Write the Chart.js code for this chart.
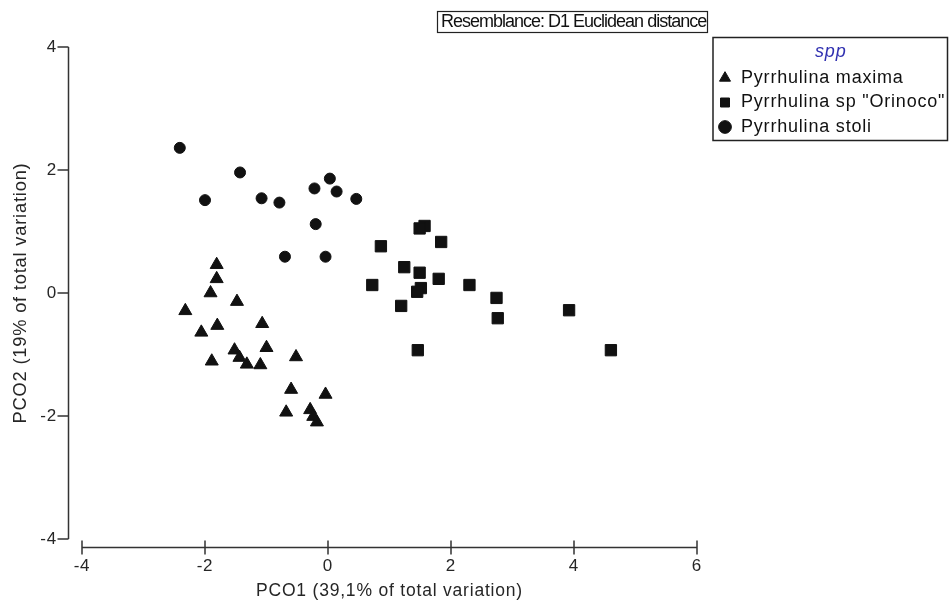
<!DOCTYPE html>
<html>
<head>
<meta charset="utf-8">
<script src="https://cdn.jsdelivr.net/npm/chart.js@4"></script>
<style>
  html, body { margin: 0; padding: 0; background: #fff; }
  canvas { display: block; }
</style>
</head>
<body>
<canvas id="pcoChart" width="950" height="606"></canvas>
<script>
// values
const seriesNames = ['Pyrrhulina maxima', 'Pyrrhulina sp "Orinoco"', 'Pyrrhulina stoli'];

const maximaX = [-1.81, -1.81, -1.91, -1.48, -2.32, -1.80, -1.07, -2.06, -1.00, -1.52, -1.44,
                 -1.32, -1.10, -1.89, -0.52, -0.60, -0.04, -0.68, -0.29, -0.24, -0.18];
const maximaY = [0.46, 0.23, 0.00, -0.14, -0.29, -0.53, -0.50, -0.64, -0.89, -0.93, -1.05,
                 -1.16, -1.17, -1.11, -1.04, -1.57, -1.65, -1.94, -1.90, -2.01, -2.10];

const orinocoX = [1.57, 1.49, 0.86, 1.84, 1.24, 1.49, 1.80, 0.72, 2.30, 1.51, 1.45, 1.19,
                  2.74, 2.76, 3.92, 1.46, 4.60];
const orinocoY = [1.09, 1.05, 0.76, 0.83, 0.42, 0.33, 0.23, 0.13, 0.13, 0.08, 0.02, -0.21,
                  -0.08, -0.41, -0.28, -0.93, -0.93];

const stoliX = [-2.41, -1.43, -2.00, -1.08, -0.79, -0.22, 0.03, 0.14, 0.46, -0.20, -0.70, -0.04];
const stoliY = [2.36, 1.96, 1.51, 1.54, 1.47, 1.70, 1.86, 1.65, 1.53, 1.12, 0.59, 0.59];

const xTicks = [-4, -2, 0, 2, 4, 6];
const yTicks = [-4, -2, 0, 2, 4];
const xTitle = 'PCO1 (39,1% of total variation)';
const yTitle = 'PCO2 (19% of total variation)';
const legendTitle = 'spp';
const boxText = 'Resemblance: D1 Euclidean distance';

const ink = '#111';
const textColor = '#262626';

Chart.defaults.font.family = "'Liberation Sans', Arial, sans-serif";
Chart.defaults.color = textColor;

function toPoints(xs, ys){
    return xs.map((x, i) => ({x: x, y: ys[i]}));
}

// slightly wider glyph spacing, like the original export
const spacing = {
    id: 'spacing',
    afterInit(chart){
        chart.ctx.letterSpacing = '0.8px';
    }
};

// offset axis lines with crossing ticks, drawn from the scales
const axisLines = {
    id: 'axisLines',
    afterDraw(chart){
        const c = chart.ctx;
        const xs = chart.scales.x;
        const ys = chart.scales.y;
        const axX = chart.chartArea.left - 13.5;
        const axY = chart.chartArea.bottom + 8.5;
        c.save();
        c.strokeStyle = '#333';
        c.lineWidth = 1.5;
        c.beginPath();
        c.moveTo(axX, ys.getPixelForValue(yTicks[yTicks.length - 1]));
        c.lineTo(axX, ys.getPixelForValue(yTicks[0]));
        yTicks.forEach(v => {
            const py = ys.getPixelForValue(v);
            c.moveTo(axX - 11, py);
            c.lineTo(axX, py);
        });
        c.moveTo(xs.getPixelForValue(xTicks[0]), axY);
        c.lineTo(xs.getPixelForValue(xTicks[xTicks.length - 1]), axY);
        xTicks.forEach(v => {
            const px = xs.getPixelForValue(v);
            c.moveTo(px, axY - 7);
            c.lineTo(px, axY + 7);
        });
        c.stroke();
        c.restore();
    }
};

// frame round the legend and the resemblance note
const frames = {
    id: 'frames',
    afterDraw(chart){
        const c = chart.ctx;
        const lg = chart.legend;
        c.save();
        c.strokeStyle = '#222';
        c.lineWidth = 1.5;
        c.strokeRect(lg.left + 1.5, lg.top + 7.5, lg.right - 2.5 - (lg.left + 1.5), 103);

        c.lineWidth = 1.2;
        c.strokeRect(437.5, 11.5, 270, 21);
        c.letterSpacing = '-1px';
        c.font = "18px 'Liberation Sans', Arial, sans-serif";
        c.fillStyle = ink;
        c.textBaseline = 'middle';
        c.fillText(boxText, 441, 22.5);
        c.restore();
    }
};

const hidden = {
    display: true,
    grid: {display: false},
    border: {display: false},
    ticks: {display: false}
};

new Chart(document.getElementById('pcoChart'), {
    type: 'scatter',
    data: {
        datasets: [{
            label: seriesNames[0],
            data: toPoints(maximaX, maximaY),
            pointStyle: 'triangle',
            pointRadius: 7.5,
            backgroundColor: ink,
            borderColor: ink,
            borderWidth: 1
        }, {
            label: seriesNames[1],
            data: toPoints(orinocoX, orinocoY),
            pointStyle: 'rect',
            pointRadius: 8,
            backgroundColor: ink,
            borderColor: ink,
            borderWidth: 1
        }, {
            label: seriesNames[2],
            data: toPoints(stoliX, stoliY),
            pointStyle: 'circle',
            pointRadius: 5.5,
            backgroundColor: ink,
            borderColor: ink,
            borderWidth: 1
        }]
    },
    options: {
        responsive: false,
        animation: false,
        devicePixelRatio: 1,
        events: [],
        layout: {padding: {top: 30, left: 0, right: 0, bottom: 0}},
        plugins: {
            tooltip: {enabled: false},
            legend: {
                position: 'right',
                align: 'start',
                maxWidth: 238.5,
                title: {
                    display: true,
                    text: legendTitle,
                    color: '#3030b0',
                    font: {size: 18, style: 'italic', lineHeight: 1},
                    padding: {top: 13, bottom: 1.5}
                },
                labels: {
                    usePointStyle: true,
                    boxWidth: 14,
                    boxHeight: 9,
                    padding: 6.5,
                    color: ink,
                    font: {size: 18}
                }
            }
        },
        scales: {
            x: {
                type: 'linear',
                position: 'bottom',
                min: -4,
                max: 6,
                afterBuildTicks: s => { s.ticks = xTicks.map(v => ({value: v})); },
                afterFit: s => { s.height = 67; },
                grid: {display: false},
                border: {display: false},
                ticks: {padding: 9, font: {size: 17}, color: textColor},
                title: {display: true, text: xTitle, font: {size: 17.5}, color: textColor,
                        padding: {top: 0, bottom: 4}}
            },
            y: {
                type: 'linear',
                position: 'left',
                min: -4,
                max: 4,
                afterBuildTicks: s => { s.ticks = yTicks.map(v => ({value: v})); },
                afterFit: s => { s.width = 82; },
                grid: {display: false},
                border: {display: false},
                ticks: {padding: 17, font: {size: 17}, color: textColor},
                title: {display: true, text: yTitle, font: {size: 18.3}, color: textColor,
                        padding: {top: 10, bottom: 0}}
            },
            xTop: Object.assign({position: 'top', afterFit: s => { s.height = 17; }}, hidden),
            yGap: Object.assign({position: 'right',
                afterFit: s => { s.width = Math.max(0, 950 - 697 - s.chart.legend.width); }}, hidden)
        }
    },
    plugins: [spacing, axisLines, frames]
});
</script>
</body>
</html>
